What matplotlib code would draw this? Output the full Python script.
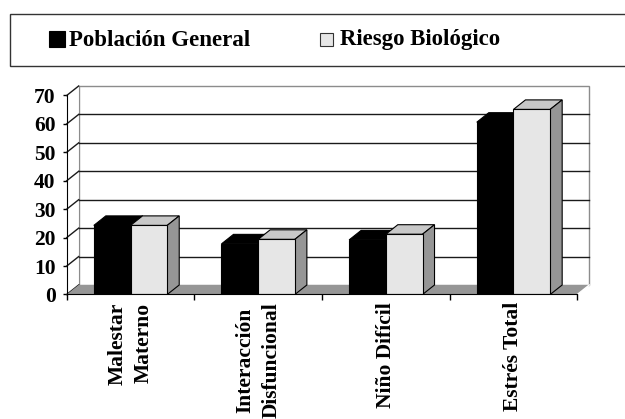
import matplotlib
matplotlib.use("Agg")
import matplotlib.pyplot as plt
from matplotlib.patches import Polygon, Rectangle

categories = ["Malestar\nMaterno", "Interacción\nDisfuncional", "Niño Difícil", "Estrés Total"]
series_names = ["Población General", "Riesgo Biológico"]
poblacion_general = [24.3, 17.8, 19.2, 60.6]
riesgo_biologico = [24.3, 19.4, 21.2, 65.1]
y_ticks = [0, 10, 20, 30, 40, 50, 60, 70]

FONT = "Liberation Serif"
DPI = 100
W, H = 6.25, 4.19

# oblique projection of the depth axis, in data units
DX = 0.094     # horizontal shift (category units)
DY = 3.35      # vertical shift (value units)
GAP = 0.2125   # empty space at each side of a category
BW = 0.2875    # width of one bar

fig = plt.figure(figsize=(W, H), dpi=DPI)
fig.patch.set_facecolor("white")

# axes placed so that category edges and values line up with the walls
px_per_cat = 127.65
px_per_val = 2.843
left_px, zero_px = 66.7, 294.5
xlim = (-0.5, 3.65)
ylim = (0, 75)
ax_w = (xlim[1] - xlim[0]) * px_per_cat
ax_h = (ylim[1] - ylim[0]) * px_per_val
ax = fig.add_axes([left_px / (W * DPI), (H * DPI - zero_px) / (H * DPI),
                   ax_w / (W * DPI), ax_h / (H * DPI)])
ax.set_xlim(*xlim)
ax.set_ylim(*ylim)
ax.patch.set_alpha(0)

x0, x1 = -0.5, len(categories) - 0.5
top = y_ticks[-1]
wall_edge = "#8c8c8c"
grid_col = "#1a1a1a"

# back wall and left side wall
ax.add_patch(Polygon([(x0 + DX, DY), (x1 + DX, DY), (x1 + DX, top + DY), (x0 + DX, top + DY)],
                     closed=True, facecolor="white", edgecolor=wall_edge, lw=1, zorder=1))
ax.add_patch(Polygon([(x0, 0), (x0 + DX, DY), (x0 + DX, top + DY), (x0, top)],
                     closed=True, facecolor="white", edgecolor="none", zorder=1))
for v in y_ticks[1:-1]:
    ax.plot([x0 + DX, x1 + DX], [v + DY, v + DY], color=grid_col, lw=1, zorder=2)
for v in y_ticks:
    ax.plot([x0, x0 + DX], [v, v + DY], color=grid_col, lw=1, zorder=2, clip_on=False)

# floor
ax.add_patch(Polygon([(x0, 0), (x1, 0), (x1 + DX, DY), (x0 + DX, DY)],
                     closed=True, facecolor="#969696", edgecolor="none", zorder=2))
ax.plot([x1, x1 + DX], [0, DY], color="white", lw=1, zorder=2)


def draw_bar(xl, h, front, topc, side):
    xr = xl + BW
    ax.add_patch(Polygon([(xl, h), (xr, h), (xr + DX, h + DY), (xl + DX, h + DY)],
                         closed=True, facecolor=topc, edgecolor="black", lw=0.8, zorder=3))
    ax.add_patch(Polygon([(xr, 0), (xr + DX, DY), (xr + DX, h + DY), (xr, h)],
                         closed=True, facecolor=side, edgecolor="black", lw=0.8, zorder=3))
    ax.add_patch(Rectangle((xl, 0), BW, h, facecolor=front, edgecolor="black", lw=0.8, zorder=4))


for i in range(len(categories)):
    xl = i - 0.5 + GAP
    draw_bar(xl, poblacion_general[i], "black", "black", "#404040")
    draw_bar(xl + BW, riesgo_biologico[i], "#e6e6e6", "#c8c8c8", "#969696")

# axes lines and ticks
for s in ["top", "right"]:
    ax.spines[s].set_visible(False)
ax.spines["left"].set_bounds(0, top)
ax.spines["bottom"].set_bounds(x0, x1)
ax.spines["left"].set_zorder(5)
ax.spines["bottom"].set_zorder(5)
ax.set_yticks(y_ticks)
ax.set_yticklabels([str(v) for v in y_ticks], fontfamily=FONT, fontweight="bold", fontsize=15.5)
ax.tick_params(axis="y", direction="out", length=3, width=1, pad=5)
ax.set_xticks([i - 0.5 for i in range(len(categories) + 1)])
ax.set_xticklabels([])
ax.tick_params(axis="x", which="major", direction="out", length=4, width=1)
ax.set_xticks(range(len(categories)), minor=True)
ax.set_xticklabels(categories, minor=True, rotation=90, fontfamily=FONT, fontweight="bold",
                   fontsize=15.5, ha="center", va="top", multialignment="center",
                   linespacing=1.4)
ax.tick_params(axis="x", which="minor", length=0, pad=5.5)

# legend box
lg = fig.add_axes([0, 0, 1, 1], zorder=10)
lg.set_xlim(0, W * DPI)
lg.set_ylim(H * DPI, 0)
lg.axis("off")
lg.add_patch(Rectangle((9.5, 14.5), 640, 52, facecolor="white", edgecolor="#333333", lw=1))
lg.add_patch(Rectangle((49, 31.5), 15.5, 15.5, facecolor="black", edgecolor="black", lw=0.8))
lg.text(69, 40, series_names[0], fontfamily=FONT, fontweight="bold", fontsize=16.5,
        ha="left", va="center")
lg.add_patch(Rectangle((320, 33), 13, 13, facecolor="#e6e6e6", edgecolor="#333333", lw=0.8))
lg.text(340, 40, series_names[1], fontfamily=FONT, fontweight="bold", fontsize=16.5,
        ha="left", va="center")

fig.savefig("out.png", dpi=DPI)
